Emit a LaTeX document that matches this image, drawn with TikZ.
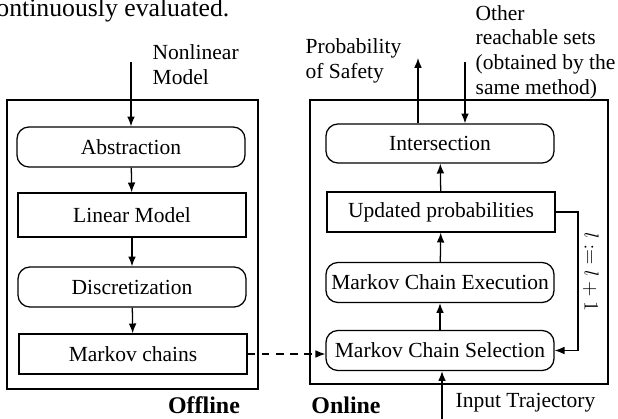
\documentclass[tikz,border=0pt]{standalone}
\usepackage{fontspec}
\setmainfont{Liberation Serif}
\usetikzlibrary{arrows.meta}
\begin{document}
\begin{tikzpicture}[>={Latex[length=7pt,width=5.5pt]},x=0.025cm,y=-0.025cm,line width=0.9pt,
  font=\fontsize{15.3}{17.6}\selectfont,
  blk/.style={draw,minimum width=5.7cm,minimum height=1cm,inner sep=0pt},
  rblk/.style={blk,rounded corners=0.3cm},
  txt/.style={inner sep=0pt,align=left}]
\useasboundingbox (0,0) rectangle (618,419);
\node[anchor=base east,inner sep=0pt,font=\fontsize{18.3}{22}\selectfont] (body) at (230,16.5){continuously evaluated.};
\draw (7,100) rectangle (258,389);
\draw (310,100) rectangle (608,384);
\node[rblk] (abst) at (131,147){Abstraction};
\node[blk,minimum height=1.1cm] (lin) at (132,215){Linear Model};
\node[rblk] (disc) at (132,287){Discretization};
\node[blk] (mc) at (133,354){Markov chains};
\node[rblk,minimum height=0.975cm] (inter) at (440,143.5){Intersection};
\node[blk] (upd) at (441,212){Updated probabilities};
\node[rblk] (exec) at (440,282.5){Markov Chain Execution};
\node[rblk] (sel) at (440,350.5){Markov Chain Selection};
\draw[->] (abst) -- (lin);
\draw[->] (lin) -- (disc);
\draw[->] (disc) -- (mc);
\draw[->] (sel) -- (exec);
\draw[->] (exec) -- (upd);
\draw[->] (upd) -- (inter);
\draw[->,dash pattern=on 5.5pt off 4.5pt] (mc.east) -- (mc.east -| sel.west);
\coordinate (fb) at (578,212);
\draw[->] (upd.east) -| (fb |- sel.east) -- (sel.east);
\node[rotate=-90] (incr) at (591,272){$l := l + 1$};
\node[txt,anchor=west] (nlin) at (152,65){Nonlinear\\Model};
\coordinate (nl) at (131,62);
\draw[->] (nl) -- (nl |- abst.north);
\node[txt,anchor=west] (prob) at (305,61){Probability\\of Safety};
\coordinate (ps) at (418,58);
\draw[->] (ps |- inter.north) -- (ps);
\node[txt,anchor=west] (other) at (475,52){Other\\reachable sets\\(obtained by the\\same method)};
\coordinate (os) at (465,62);
\draw[->] (os) -- (os |- inter.north);
\coordinate (inp) at (442,419);
\draw[->] (inp) -- (inp |- sel.south);
\node[txt,anchor=west] (traj) at (455,403){Input Trajectory};
\node[font=\fontsize{17}{20}\selectfont\bfseries] (off) at (204,405){Offline};
\node[font=\fontsize{17}{20}\selectfont\bfseries] (on) at (346,405){Online};
\end{tikzpicture}
\end{document}
